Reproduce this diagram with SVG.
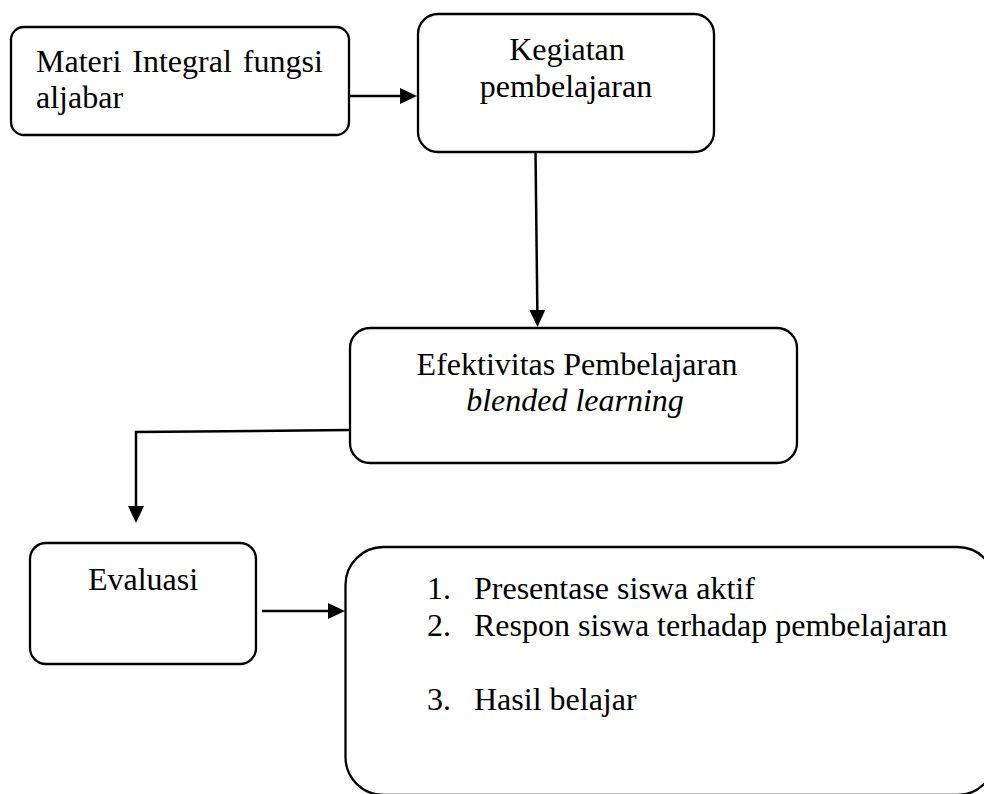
<svg xmlns="http://www.w3.org/2000/svg" width="984" height="794" viewBox="0 0 984 794">
<defs>
<marker id="ah" markerUnits="userSpaceOnUse" markerWidth="17" markerHeight="16" refX="13" refY="8" orient="auto">
<path d="M0,0 L17,8 L0,16 z" fill="#000"/>
</marker>
<style>
.box{fill:#fff;stroke:#000;stroke-width:2.3}
.t{font-family:"Liberation Serif","Times New Roman",serif;font-size:32px;fill:#000}
.c{stroke:#000;stroke-width:2.5;fill:none}
</style>
</defs>
<rect width="984" height="794" fill="#fff"/>
<g id="n1">
<rect class="box" x="11" y="27" width="338" height="108" rx="13"/>
<text class="t" x="36" y="72" word-spacing="3">Materi Integral fungsi</text>
<text class="t" x="36" y="108">aljabar</text>
</g>
<g id="n2">
<rect class="box" x="418" y="14" width="296" height="138" rx="20"/>
<text class="t" x="567" y="60" text-anchor="middle">Kegiatan</text>
<text class="t" x="566" y="97" text-anchor="middle">pembelajaran</text>
</g>
<g id="n3">
<rect class="box" x="350" y="328" width="447" height="135" rx="20"/>
<text class="t" x="577" y="375" text-anchor="middle">Efektivitas Pembelajaran</text>
<text class="t" x="575" y="411" text-anchor="middle" font-style="italic">blended learning</text>
</g>
<g id="n4">
<rect class="box" x="30" y="543" width="226" height="121" rx="16"/>
<text class="t" x="143" y="590" text-anchor="middle">Evaluasi</text>
</g>
<g id="n5">
<rect class="box" x="345.5" y="547" width="650" height="248" rx="38"/>
<text class="t" x="427" y="599">1.</text>
<text class="t" x="474" y="599">Presentase siswa aktif</text>
<text class="t" x="427" y="636">2.</text>
<text class="t" x="474" y="636">Respon siswa terhadap pembelajaran</text>
<text class="t" x="427" y="710">3.</text>
<text class="t" x="474" y="710">Hasil belajar</text>
</g>
<g id="connectors">
<line class="c" x1="349" y1="96" x2="413" y2="96" marker-end="url(#ah)"/>
<line class="c" x1="535.5" y1="152" x2="537.5" y2="323" marker-end="url(#ah)"/>
<polyline class="c" points="350,430 136,432 136,519" marker-end="url(#ah)"/>
<line class="c" x1="262" y1="611" x2="341" y2="611" marker-end="url(#ah)"/>
</g>
</svg>
